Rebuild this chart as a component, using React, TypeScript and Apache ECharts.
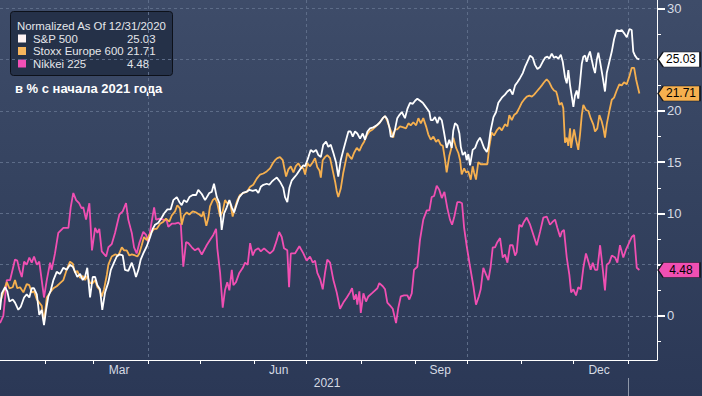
import React, { useEffect, useRef } from "react";
import * as echarts from "echarts";

// ---------- data (x = days since 1 Jan 2021, y = % change since 31 Dec 2020) ----------
const seriesNames = ["S&P 500", "Stoxx Europe 600", "Nikkei 225"];
const seriesColors = ["#ffffff", "#f6b04f", "#f04fb2"];
const legendSwatch = ["#fff4f4", "#f8b65c", "#f24fb6"];
const tagText = ["#000000", "#000000", "#000000"];
const legendTitle = "Normalized As Of 12/31/2020";
const subtitle = "в % с начала 2021 года";

const spx: [number, number][] = [
  [5.3, 0.6], [6.3, 2.2], [8.2, 2.8], [9.5, 2.4], [10.7, 1.4], [12.6, 1.6], [13.9, 1.3], [15.8, 0.6],
  [17.2, 0.9], [19.1, 1.8], [20.6, 2.1], [22.1, 1.8], [23.5, 2.7], [24.8, 2.7], [26.4, 2.1], [27.8, 0.1],
  [29.2, 0.6], [30.5, -0.9], [31.7, 0.6], [33.0, 1.9], [34.4, 2.5], [35.9, 3.5], [37.8, 4.3], [39.7, 4.1],
  [41.6, 4.7], [43.5, 4.5], [45.4, 5.0], [47.0, 4.8], [48.3, 4.3], [49.6, 3.8], [51.2, 4.1], [52.7, 3.5],
  [54.0, 3.8], [55.3, 4.7], [56.9, 1.8], [58.4, 3.8], [59.8, 3.8], [61.1, 3.0], [62.6, 2.6], [63.9, 0.6],
  [65.5, 2.3], [67.4, 3.3], [68.8, 4.5], [70.6, 5.2], [72.2, 5.8], [73.7, 6.0], [75.6, 5.9], [76.9, 4.5],
  [78.8, 4.4], [80.8, 5.2], [82.1, 4.5], [83.2, 3.8], [84.6, 4.5], [85.9, 5.5], [87.4, 6.1], [89.4, 6.8],
  [91.3, 7.7], [92.8, 8.5], [94.1, 8.9], [96.0, 9.1], [98.0, 9.6], [99.3, 10.0], [101.2, 10.4], [103.1, 10.4],
  [104.6, 11.3], [106.6, 11.6], [108.1, 11.1], [109.4, 10.8], [110.7, 11.3], [112.3, 11.1], [113.8, 11.6], [115.7, 11.8],
  [117.6, 11.8], [118.9, 12.3], [120.9, 11.9], [122.8, 11.3], [125.2, 12.0], [126.6, 12.1], [127.9, 12.9], [129.5, 11.6],
  [131.0, 11.0], [131.8, 9.6], [132.3, 8.4], [133.7, 10.0], [135.2, 10.6], [136.7, 11.3], [138.1, 10.6], [139.4, 10.1],
  [140.9, 10.9], [142.4, 11.6], [144.4, 12.0], [146.3, 12.1], [148.2, 12.3], [150.1, 12.2], [152.0, 12.3], [153.3, 12.0],
  [154.7, 12.6], [156.2, 12.8], [158.1, 12.9], [159.6, 12.8], [161.0, 13.1], [162.3, 13.3], [163.9, 13.5], [165.7, 13.1],
  [167.6, 12.5], [168.6, 11.6], [169.9, 11.1], [171.1, 12.5], [172.4, 13.2], [173.8, 13.5], [175.3, 13.8], [177.2, 14.3],
  [179.1, 14.7], [180.1, 14.6], [182.0, 15.5], [183.3, 16.2], [184.8, 16.0], [186.4, 16.2], [187.7, 15.7], [189.1, 15.5],
  [190.5, 16.7], [192.1, 17.0], [193.4, 16.5], [194.8, 16.7], [196.3, 15.9], [197.8, 15.0], [199.1, 13.6], [200.5, 15.2],
  [202.0, 16.2], [203.6, 17.2], [204.9, 18.0], [206.2, 18.0], [207.4, 17.5], [208.7, 18.0], [210.0, 17.8], [211.6, 17.3],
  [213.1, 17.8], [214.4, 17.2], [215.8, 18.0], [217.3, 18.3], [219.2, 18.4], [221.1, 18.6], [223.0, 18.9], [224.6, 19.3],
  [225.9, 19.5], [227.2, 19.2], [228.4, 18.4], [229.2, 17.5], [230.3, 17.5], [231.6, 18.2], [232.9, 19.3], [234.1, 19.6],
  [235.5, 19.9], [237.3, 19.3], [238.7, 20.2], [240.2, 20.8], [241.8, 20.7], [243.1, 21.0], [244.4, 21.2], [246.0, 21.0],
  [247.5, 20.8], [248.8, 20.5], [250.1, 20.2], [251.3, 19.9], [252.1, 19.1], [253.2, 19.1], [254.5, 19.4], [255.9, 18.8],
  [257.0, 19.4], [258.4, 19.1], [259.7, 17.9], [261.2, 16.4], [262.7, 17.2], [264.1, 16.4], [265.0, 18.1], [266.0, 18.8],
  [267.3, 18.6], [268.5, 17.8], [269.3, 16.5], [270.4, 15.7], [271.7, 16.0], [272.7, 15.2], [273.6, 15.8], [274.6, 14.7],
  [276.1, 16.2], [277.5, 16.4], [278.8, 17.0], [280.3, 17.4], [281.3, 17.0], [282.6, 16.4], [284.2, 16.0], [285.1, 16.5],
  [286.4, 18.1], [288.0, 19.4], [289.5, 19.9], [290.8, 20.8], [292.8, 21.3], [294.6, 21.6], [296.0, 21.9], [297.5, 22.1],
  [299.0, 21.6], [300.4, 22.5], [301.7, 22.8], [303.2, 23.2], [304.8, 23.7], [306.1, 24.3], [307.4, 24.8], [309.0, 25.4],
  [310.5, 25.2], [311.8, 24.5], [313.2, 24.1], [314.7, 24.3], [316.2, 24.8], [317.6, 25.2], [318.9, 25.3], [320.0, 25.1],
  [321.4, 25.6], [322.7, 25.2], [323.9, 25.3], [325.2, 25.1], [326.6, 25.5], [327.7, 24.8], [329.0, 23.3], [330.0, 22.7],
  [330.9, 24.0], [331.9, 22.5], [332.9, 21.4], [333.8, 20.4], [334.7, 21.5], [335.7, 22.0], [336.6, 21.2], [337.6, 22.8],
  [338.6, 24.6], [339.5, 25.3], [340.5, 25.4], [341.4, 24.8], [342.4, 25.4], [343.3, 25.8], [344.3, 25.0], [345.2, 24.3],
  [346.2, 23.7], [347.2, 25.0], [348.1, 25.7], [349.1, 24.8], [350.6, 23.3], [351.9, 21.9], [352.9, 23.7], [354.4, 24.8],
  [355.8, 25.8], [357.1, 27.0], [358.6, 27.9], [360.1, 27.8], [361.5, 27.9], [362.8, 27.6], [364.4, 27.2], [365.9, 28.0],
  [367.2, 27.9], [368.1, 25.8], [369.1, 25.4], [370.4, 25.1], [371.6, 25.03],
];

const stoxx: [number, number][] = [
  [5.3, 1.3], [7.2, 2.3], [9.2, 3.3], [10.7, 2.7], [12.6, 2.8], [13.9, 3.5], [15.2, 2.7], [16.8, 2.8],
  [18.7, 2.3], [20.6, 3.1], [22.1, 3.0], [23.5, 2.3], [24.8, 2.4], [26.4, 1.6], [27.8, 1.3], [29.2, 1.0],
  [30.5, -0.6], [32.1, 1.8], [34.0, 2.3], [35.9, 2.7], [37.8, 2.9], [39.7, 3.2], [41.6, 3.5], [43.5, 4.5],
  [45.4, 5.3], [47.0, 5.1], [48.3, 4.2], [49.6, 4.4], [51.2, 3.7], [52.7, 3.9], [54.0, 3.5], [55.3, 3.9],
  [56.9, 3.2], [58.4, 3.2], [59.8, 3.5], [61.1, 2.8], [62.2, 2.6], [63.6, 1.9], [64.9, 2.6], [66.5, 4.0],
  [67.4, 5.0], [69.3, 5.8], [71.2, 6.0], [73.1, 5.9], [75.1, 6.7], [76.4, 6.4], [77.9, 6.4], [79.4, 5.9],
  [80.8, 6.0], [82.7, 5.9], [84.0, 5.8], [85.1, 6.1], [86.5, 6.9], [87.8, 7.7], [89.4, 7.4], [90.9, 7.9],
  [92.2, 8.2], [93.6, 8.5], [95.1, 8.5], [97.0, 9.0], [98.9, 9.2], [100.4, 9.5], [102.3, 9.2], [103.7, 9.8],
  [105.6, 10.2], [106.9, 10.8], [108.4, 10.5], [109.4, 8.9], [110.7, 9.8], [112.3, 10.1], [113.8, 9.9], [115.7, 10.2],
  [117.6, 10.1], [119.5, 9.9], [120.9, 9.7], [121.8, 10.2], [123.5, 8.8], [124.7, 9.6], [125.6, 10.7], [127.2, 11.3],
  [128.5, 11.5], [129.8, 11.0], [131.4, 9.7], [132.9, 10.2], [134.2, 11.3], [135.5, 11.0], [137.1, 11.1], [138.6, 9.7],
  [140.0, 10.6], [141.3, 11.3], [142.8, 11.8], [144.7, 12.0], [146.7, 12.1], [148.6, 12.6], [150.4, 12.8], [152.4, 13.4],
  [154.3, 13.8], [156.2, 13.9], [158.1, 14.1], [160.0, 14.4], [161.6, 14.9], [162.9, 15.2], [164.2, 15.4], [165.7, 15.5],
  [167.3, 15.2], [168.0, 14.6], [169.2, 13.6], [170.5, 14.3], [171.9, 14.6], [173.4, 14.0], [174.7, 14.6], [176.2, 14.9],
  [177.6, 14.5], [179.1, 14.4], [180.1, 13.8], [181.4, 14.9], [182.9, 14.6], [184.5, 15.0], [185.8, 15.4], [187.1, 14.5],
  [188.3, 14.2], [189.1, 13.5], [190.2, 15.2], [191.5, 15.5], [192.8, 15.7], [194.4, 15.4], [195.9, 14.2], [197.3, 13.1],
  [198.2, 12.2], [199.1, 11.6], [200.5, 12.4], [202.0, 14.0], [203.6, 15.3], [204.3, 15.9], [205.4, 15.6], [206.8, 15.3],
  [208.1, 15.9], [209.7, 16.4], [211.2, 16.1], [212.5, 16.6], [213.9, 17.0], [215.4, 17.6], [216.9, 18.0], [218.8, 18.2],
  [220.7, 18.5], [222.6, 18.8], [224.6, 19.3], [225.9, 19.5], [227.2, 19.0], [228.4, 18.4], [229.7, 17.9], [230.6, 17.4],
  [231.6, 18.2], [232.9, 18.2], [234.5, 18.5], [236.4, 18.4], [237.9, 18.3], [239.3, 18.8], [240.6, 18.6], [242.1, 18.9],
  [243.7, 18.6], [245.0, 19.3], [246.4, 18.8], [247.8, 19.3], [249.4, 18.5], [250.7, 17.7], [252.1, 17.2], [253.6, 17.5],
  [255.1, 17.0], [256.4, 17.2], [257.8, 16.7], [259.0, 16.6], [260.3, 15.2], [261.2, 14.0], [262.7, 15.6], [264.1, 16.5],
  [265.0, 17.4], [266.6, 16.4], [267.9, 15.9], [268.9, 15.2], [269.8, 13.8], [271.2, 14.4], [272.3, 14.0], [273.6, 14.1],
  [275.0, 13.3], [276.1, 14.6], [276.9, 14.0], [278.0, 13.3], [279.3, 15.0], [280.7, 14.8], [282.2, 14.8], [284.5, 14.8],
  [285.6, 16.5], [287.0, 17.9], [288.3, 17.6], [289.9, 18.1], [291.4, 18.4], [292.8, 18.1], [294.6, 18.7], [296.0, 18.5],
  [297.1, 19.6], [298.5, 19.1], [299.8, 19.6], [301.3, 19.8], [302.8, 20.3], [304.2, 20.8], [305.5, 21.1], [307.1, 21.4],
  [308.6, 21.5], [310.0, 21.4], [311.3, 21.6], [312.8, 21.9], [314.3, 22.2], [315.7, 22.5], [317.0, 22.8], [318.5, 23.1],
  [320.0, 22.8], [321.4, 22.3], [322.7, 22.0], [323.9, 21.9], [324.6, 21.5], [325.8, 20.6], [327.1, 20.8], [328.0, 20.3],
  [329.0, 16.9], [330.0, 17.4], [330.9, 16.6], [331.9, 18.3], [332.5, 16.4], [333.4, 17.4], [334.2, 18.2], [335.3, 17.2],
  [336.6, 16.2], [337.6, 17.7], [338.6, 19.6], [339.5, 20.6], [341.0, 20.1], [342.4, 20.0], [343.7, 19.3], [345.2, 18.7],
  [346.2, 18.0], [347.5, 18.3], [348.7, 19.6], [350.0, 19.0], [351.0, 18.3], [351.9, 17.4], [352.9, 18.7], [354.4, 20.0],
  [355.8, 21.1], [357.1, 21.3], [358.6, 22.0], [360.1, 22.6], [361.5, 22.5], [362.8, 22.8], [364.4, 22.6], [365.9, 23.4],
  [367.2, 24.2], [368.6, 24.2], [369.7, 23.1], [371.6, 21.71],
];

const nikkei: [number, number][] = [
  [5.3, -0.7], [7.2, 0.0], [9.2, 3.5], [11.1, 3.5], [13.9, 5.5], [15.2, 5.4], [16.4, 4.5], [17.8, 3.8],
  [19.1, 5.3], [20.6, 5.0], [22.1, 5.7], [23.5, 5.2], [24.8, 5.8], [26.4, 5.0], [27.8, 5.3], [29.2, 3.5],
  [30.5, 1.8], [32.1, 3.5], [34.0, 5.2], [34.9, 4.5], [36.8, 6.1], [38.7, 8.1], [41.6, 8.6], [44.5, 8.6],
  [45.8, 10.6], [47.3, 12.0], [48.9, 11.3], [50.6, 11.0], [52.1, 10.5], [53.0, 10.6], [54.6, 9.4], [56.5, 11.0],
  [58.0, 6.4], [59.8, 8.6], [61.1, 8.1], [62.2, 8.5], [63.6, 6.3], [66.1, 5.8], [67.4, 6.7], [69.3, 7.0],
  [71.2, 8.1], [73.7, 9.9], [75.6, 10.2], [77.5, 11.0], [78.8, 9.4], [80.8, 8.1], [82.1, 6.7], [83.6, 6.1],
  [85.1, 7.1], [87.4, 8.2], [89.0, 7.9], [90.3, 7.2], [91.7, 8.7], [93.6, 10.6], [94.7, 9.4], [96.6, 9.5],
  [98.9, 9.4], [100.8, 9.3], [101.7, 8.7], [103.7, 9.0], [105.6, 9.0], [107.5, 9.1], [108.9, 8.9], [110.3, 4.8],
  [111.9, 7.2], [113.2, 7.1], [115.2, 6.7], [117.0, 6.4], [118.9, 6.6], [120.9, 6.0], [122.8, 6.6], [123.7, 6.9],
  [125.6, 7.4], [127.5, 7.9], [129.1, 8.5], [129.8, 6.6], [131.4, 4.2], [132.9, 0.8], [134.2, 2.5], [135.5, 3.3],
  [136.7, 2.5], [138.1, 4.5], [139.0, 3.0], [140.5, 3.3], [142.4, 4.2], [144.4, 4.7], [145.7, 5.2], [147.2, 5.0],
  [148.6, 7.1], [150.1, 5.9], [151.4, 6.4], [153.3, 6.6], [154.7, 6.3], [156.6, 6.6], [158.5, 6.3], [160.0, 6.1],
  [161.9, 6.4], [163.5, 7.2], [165.2, 8.2], [166.7, 7.7], [168.0, 6.6], [169.9, 6.4], [170.9, 2.8], [171.9, 6.1],
  [174.3, 6.1], [176.8, 6.8], [179.1, 6.1], [181.0, 5.4], [182.9, 5.8], [184.5, 5.2], [185.8, 5.4], [187.1, 4.2],
  [188.7, 3.6], [190.2, 2.6], [191.5, 4.2], [192.8, 5.5], [194.4, 5.2], [196.3, 3.5], [198.2, 2.3], [200.1, 0.7],
  [202.0, 1.3], [204.0, 1.8], [205.8, 2.3], [207.0, 2.7], [208.1, 1.6], [209.3, 2.1], [210.0, 1.1], [211.2, 2.4],
  [212.0, 0.3], [213.5, 2.2], [215.0, 1.4], [216.3, 1.9], [218.3, 2.2], [220.2, 2.5], [221.5, 2.7], [222.6, 3.2],
  [224.6, 2.9], [225.9, 2.6], [227.2, 1.3], [228.8, 1.0], [230.3, 0.7], [232.2, -0.7], [233.5, 0.8], [234.9, 1.9],
  [236.8, 2.0], [238.7, 2.0], [239.8, 1.6], [241.2, 2.2], [242.5, 4.5], [244.4, 4.8], [245.9, 7.4], [247.8, 9.4],
  [249.8, 10.3], [251.3, 10.3], [252.6, 11.6], [254.0, 11.7], [255.5, 12.7], [257.0, 12.3], [258.4, 11.5], [259.9, 12.1],
  [261.6, 10.5], [263.1, 9.4], [264.3, 8.9], [265.6, 9.7], [267.3, 11.1], [268.9, 11.1], [270.0, 11.0], [271.2, 8.6],
  [272.7, 6.8], [274.6, 4.8], [276.5, 2.9], [278.0, 1.1], [279.6, 1.9], [280.7, 2.6], [282.2, 4.7], [283.6, 4.1],
  [285.1, 3.5], [286.4, 4.8], [287.6, 6.7], [288.9, 6.7], [290.2, 7.2], [291.8, 7.6], [293.3, 5.7], [294.6, 6.0],
  [296.0, 5.2], [297.5, 6.9], [299.0, 6.9], [300.4, 5.9], [301.3, 6.2], [302.8, 8.9], [304.2, 8.7], [305.5, 9.2],
  [307.1, 9.6], [309.0, 8.9], [310.9, 7.9], [312.8, 6.9], [314.7, 8.2], [316.6, 9.6], [318.5, 9.7], [320.4, 8.9],
  [322.0, 9.2], [323.3, 9.4], [324.6, 8.6], [326.2, 7.7], [327.1, 8.2], [328.4, 8.4], [330.0, 5.7], [331.5, 4.0],
  [332.5, 2.3], [333.8, 2.6], [335.3, 2.0], [336.6, 2.8], [338.0, 2.6], [339.5, 4.7], [341.0, 6.1], [342.4, 5.3],
  [343.7, 4.5], [344.9, 5.2], [346.2, 4.5], [347.5, 4.5], [349.1, 6.9], [350.6, 4.6], [351.9, 2.5], [352.9, 5.0],
  [354.4, 5.2], [355.8, 5.9], [357.7, 5.7], [359.0, 5.2], [360.5, 6.9], [362.4, 5.7], [364.0, 6.5], [365.9, 7.2],
  [367.2, 7.7], [368.6, 7.9], [370.1, 4.7], [371.6, 4.48],
];

// ---------- axes ----------
const xMin = 5.3;
const xMax = 381.7;
const yMin = -4.3;
const yMax = 30.83;
const monthStartDays = [31, 59, 90, 120, 151, 181, 212, 243, 273, 304, 334, 365];
const quarterStartDays = [90, 181, 273, 365];
const monthLabelDays = [73.5, 165, 257.5, 348.5];
const monthLabels = ["Mar", "Jun", "Sep", "Dec"];
const yearLabelDay = 192.7;
const yearLabel = "2021";
const yearBreakDays = [365];
const yMajor = [0, 5, 10, 15, 20, 25, 30];
const yLabelValues = [0, 10, 15, 20, 30]; // 5 and 25 sit under the value tags
const yMinor = [-2.5, 0, 2.5, 5, 7.5, 10, 12.5, 15, 17.5, 20, 22.5, 25, 27.5, 30];

const FONT = '"Liberation Sans", Arial, sans-serif';
const AXIS_TEXT = "#d6dbe4";
const GRID_LINE = "#5d6c88";

export default function App() {
  const ref = useRef<HTMLDivElement>(null);

  useEffect(() => {
    if (!ref.current) return;
    const chart = echarts.init(ref.current, undefined, { renderer: "svg" });
    const all = [spx, stoxx, nikkei];
    const lastVals = all.map((s) => s[s.length - 1][1]);

    const series: any[] = all.map((data, i) => ({
      type: "line",
      name: seriesNames[i],
      data,
      xAxisIndex: 0,
      yAxisIndex: 0,
      showSymbol: false,
      symbol: "none",
      clip: false,
      z: 3 + (2 - i),
      lineStyle: { color: seriesColors[i], width: 1.8 },
      markPoint: {
        silent: true,
        symbol: "path://M0,5 L5,0 L41,0 L41,10 L5,10 Z",
        symbolSize: [42, 15],
        symbolKeepAspect: false,
        symbolOffset: [22, 0],
        itemStyle: { color: seriesColors[i], borderColor: "#141820", borderWidth: 1 },
        label: {
          show: true,
          position: "inside",
          offset: [2, 0],
          color: tagText[i],
          fontSize: 12,
          fontFamily: FONT,
          formatter: () => lastVals[i].toFixed(2),
        },
        data: [{ coord: [xMax, lastVals[i]], value: lastVals[i] }],
      },
    }));

    const legendChildren: any[] = [
      {
        type: "rect",
        shape: { x: 10.5, y: 11.5, width: 162, height: 64, r: 3 },
        style: { fill: "rgba(34,45,68,0.88)", stroke: "#0d111a", lineWidth: 1 },
      },
      {
        type: "text",
        x: 17,
        y: 25.5,
        style: { text: legendTitle, fill: "#e4e6ea", font: `11.4px ${FONT}`, verticalAlign: "middle" },
      },
      {
        type: "text",
        x: 15,
        y: 88,
        style: { text: subtitle, fill: "#ffffff", font: `bold 13px ${FONT}`, verticalAlign: "middle" },
      },
    ];
    seriesNames.forEach((name, i) => {
      const cy = 38.5 + i * 12.5;
      legendChildren.push(
        { type: "rect", shape: { x: 18, y: cy - 4, width: 8, height: 8 }, style: { fill: legendSwatch[i] } },
        { type: "text", x: 33, y: cy, style: { text: name, fill: "#e4e6ea", font: `11.4px ${FONT}`, verticalAlign: "middle" } },
        {
          type: "text",
          x: 127,
          y: cy,
          style: { text: lastVals[i].toFixed(2), fill: "#e4e6ea", font: `11.4px ${FONT}`, verticalAlign: "middle" },
        }
      );
    });

    chart.setOption({
      animation: false,
      backgroundColor: "transparent",
      textStyle: { fontFamily: FONT },
      grid: { left: 0, right: 45, top: 0, bottom: 36, containLabel: false, outerBoundsMode: "none" },
      xAxis: [
        {
          type: "value",
          min: xMin,
          max: xMax,
          position: "bottom",
          axisLine: { show: true, onZero: false, lineStyle: { color: "#ffffff", width: 1 } },
          axisTick: { show: true, inside: false, customValues: monthStartDays, length: 4, lineStyle: { color: "#ffffff" } },
          axisLabel: {
            show: true,
            customValues: monthLabelDays,
            formatter: (v: number) => {
              const k = monthLabelDays.findIndex((d) => Math.abs(d - v) < 0.01);
              return k >= 0 ? monthLabels[k] : "";
            },
            color: AXIS_TEXT,
            fontSize: 12,
            margin: 4,
          },
          splitLine: { show: false },
        },
        {
          type: "value",
          min: xMin,
          max: xMax,
          position: "bottom",
          offset: 18,
          axisLine: { show: false, onZero: false },
          axisTick: { show: true, inside: false, customValues: yearBreakDays, length: 18, lineStyle: { color: "#8e97a8" } },
          axisLabel: {
            show: true,
            customValues: [yearLabelDay],
            formatter: () => yearLabel,
            color: AXIS_TEXT,
            fontSize: 12,
            margin: -1,
          },
          splitLine: { show: false },
        },
        {
          type: "value",
          min: xMin,
          max: xMax,
          position: "bottom",
          show: true,
          axisLine: { show: false, onZero: false },
          axisTick: { show: false, customValues: quarterStartDays },
          axisLabel: { show: false },
          splitLine: { show: true, lineStyle: { color: GRID_LINE, type: [3, 3], width: 1 } },
        },
      ],
      yAxis: [
        {
          type: "value",
          min: yMin,
          max: yMax,
          position: "right",
          axisLine: { show: true, onZero: false, lineStyle: { color: "#ffffff", width: 1 } },
          axisTick: { show: true, customValues: yMinor, length: 4, lineStyle: { color: "#ffffff" } },
          axisLabel: {
            show: true,
            customValues: yLabelValues,
            formatter: (v: number) => String(v),
            color: AXIS_TEXT,
            fontSize: 13,
            margin: 10,
          },
          splitLine: { show: false },
        },
        {
          type: "value",
          min: yMin,
          max: yMax,
          position: "right",
          axisLine: { show: false, onZero: false },
          axisTick: { show: true, customValues: yMajor, length: 8, lineStyle: { color: "#ffffff", width: 2 } },
          axisLabel: { show: false },
          splitLine: { show: true, lineStyle: { color: GRID_LINE, type: [3, 3], width: 1 } },
        },
      ],
      series,
      graphic: legendChildren,
    } as any);

    return () => chart.dispose();
  }, []);

  return (
    <div
      style={{
        position: "fixed",
        left: 0,
        top: 0,
        width: 702,
        height: 396,
        background: "linear-gradient(180deg, #3e4c69 0%, #34425f 50%, #2b3856 100%)",
      }}
    >
      <div ref={ref} style={{ width: 702, height: 396 }} />
    </div>
  );
}
